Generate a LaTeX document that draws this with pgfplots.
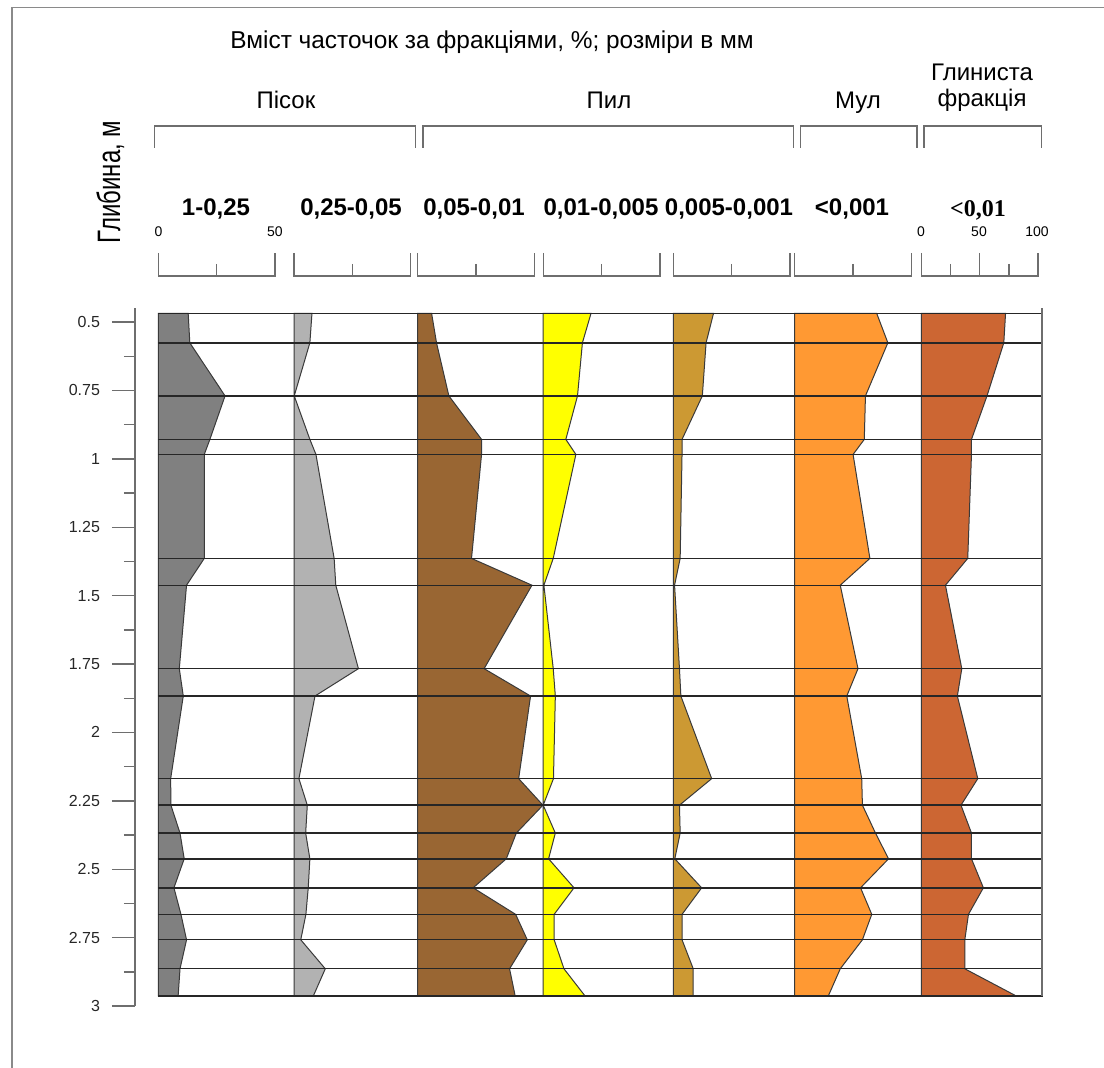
\documentclass[border=0pt]{standalone}
\usepackage{pgfplots}
\pgfplotsset{compat=1.18}
\usepackage{pgfplotstable}
\usepackage{graphicx}
\usepackage{fontspec}
\setmainfont{Liberation Sans}
\newfontfamily\timesfont{Liberation Serif}

\definecolor{colA}{HTML}{808080}
\definecolor{colB}{HTML}{B2B2B2}
\definecolor{colC}{HTML}{996633}
\definecolor{colD}{HTML}{FFFF00}
\definecolor{colE}{HTML}{CC9933}
\definecolor{colF}{HTML}{FF9933}
\definecolor{colG}{HTML}{CC6633}
\definecolor{edge}{HTML}{3A3A3A}
\definecolor{framegray}{HTML}{8A8A8A}

% depth (m) and content of each fraction (%)
\pgfplotstableread{
depth c1 c2 c3 c4 c5 c6 c7
0.468 0 0 0 0 0 0 0
0.468 12.8 7.7 6.0 20.5 17.2 35.2 72.2
0.576 13.5 6.8 8.1 16.8 14.0 40.0 70.7
0.770 28.6 0.1 13.4 14.7 12.4 30.4 56.3
0.929 22.1 6.8 27.4 9.7 3.7 29.9 43.0
0.984 19.7 9.4 27.4 14.0 3.7 25.1 43.0
1.364 19.7 17.2 23.1 4.3 2.9 32.3 39.8
1.462 12.1 17.9 49.0 0.3 0.5 19.6 20.7
1.767 9.0 27.6 28.5 4.3 2.6 27.2 34.7
1.867 10.7 9.0 48.4 5.2 3.2 22.4 30.9
2.169 5.3 2.1 43.3 4.4 16.4 28.8 48.4
2.266 5.4 5.7 53.7 0.0 2.6 29.1 34.0
2.368 9.3 5.0 42.3 5.2 2.9 34.7 43.0
2.462 11.1 6.8 38.0 2.3 0.6 40.3 43.0
2.568 6.7 6.1 23.8 13.2 12.1 28.3 53.2
2.665 9.7 5.1 42.0 4.7 3.7 33.1 40.4
2.758 12.1 2.9 47.0 4.7 3.7 29.1 37.3
2.864 9.3 13.4 39.4 8.9 8.5 19.6 37.3
2.963 8.5 8.3 41.8 17.9 8.5 14.5 81.2
2.963 0 0 0 0 0 0 0
}\profile

\pgfplotsset{
  col/.style={scale only axis, width=58.35pt, height=349pt,
    ymin=0.4488, ymax=3, y dir=reverse, xmin=0, xmax=50,
    hide axis, clip=false, anchor=north west},
  prof/.style={draw=edge, line width=0.5pt, fill=#1},
}

\newcommand\colscale[1]{%
  \draw[framegray!80!black, line width=0.7pt] (#1,253) -- (#1,276) -- ({#1+116.7},276) -- ({#1+116.7},253);
  \draw[framegray!80!black, line width=0.7pt] ({#1+58.35},264) -- ({#1+58.35},276);
}

\begin{document}
\begin{tikzpicture}
\begin{scope}[x=0.5pt,y=-0.5pt]
\useasboundingbox (0,0) rectangle (1104,1068);
\draw[framegray, line width=0.8pt] (12,1068) -- (12,7.5) -- (1104,7.5);

\node[anchor=base, font=\fontsize{12.2}{14}\selectfont] at (492,49) {Вміст часточок за фракціями, \%; розміри в мм};
\begin{scope}[every node/.style={anchor=base, font=\fontsize{12}{14}\selectfont}]
\node at (286,109) {Пісок};
\node at (609,109) {Пил};
\node at (858,109) {Мул};
\node at (982,81) {Глиниста};
\node at (982,107) {фракція};
\end{scope}

\draw[framegray!80!black, line width=0.7pt] (154.5,148) -- (154.5,126) -- (415.4,126) -- (415.4,148);
\draw[framegray!80!black, line width=0.7pt] (423,148) -- (423,126) -- (793.5,126) -- (793.5,148);
\draw[framegray!80!black, line width=0.7pt] (800.5,148) -- (800.5,126) -- (917,126) -- (917,148);
\draw[framegray!80!black, line width=0.7pt] (924,148) -- (924,126) -- (1041.5,126) -- (1041.5,148);

\node[rotate=90, anchor=base, font=\fontsize{12}{14}\selectfont] at (120,182) {\scalebox{1}[1.35]{Глибина, м}};

\begin{scope}[every node/.style={anchor=base, font=\bfseries\fontsize{12}{14}\selectfont}]
\node at (216,216) {1-0,25};
\node at (351,216) {0,25-0,05};
\node at (474,216) {0,05-0,01};
\node at (601,216) {0,01-0,005};
\node at (729,216) {0,005-0,001};
\node at (852,216) {<0,001};
\end{scope}
\node[anchor=base, font=\timesfont\bfseries\fontsize{12}{14}\selectfont] at (978,217) {<0,01};

\begin{scope}[every node/.style={anchor=base, font=\fontsize{7}{8}\selectfont}]
\node at (158.5,237) {0};
\node at (275,237) {50};
\node at (921,237) {0};
\node at (979,237) {50};
\node at (1037,237) {100};
\end{scope}

\colscale{158.3}
\colscale{294}
\colscale{417.6}
\colscale{543.2}
\colscale{673.4}
\colscale{794.5}
\draw[framegray!80!black, line width=0.7pt] (921.3,253) -- (921.3,276) -- (1038,276) -- (1038,253);
\draw[framegray!80!black, line width=0.7pt] (979.65,253) -- (979.65,276);
\draw[framegray!80!black, line width=0.7pt] (950.5,264) -- (950.5,276);
\draw[framegray!80!black, line width=0.7pt] (1008.8,264) -- (1008.8,276);
\end{scope}

\begin{axis}[col, at={(79.15pt,-154pt)}]
\addplot[prof=colA] table[x=c1, y=depth] {\profile} -- cycle;
\end{axis}
\begin{axis}[col, at={(147pt,-154pt)}]
\addplot[prof=colB] table[x=c2, y=depth] {\profile} -- cycle;
\end{axis}
\begin{axis}[col, at={(208.8pt,-154pt)}]
\addplot[prof=colC] table[x=c3, y=depth] {\profile} -- cycle;
\end{axis}
\begin{axis}[col, at={(271.6pt,-154pt)}]
\addplot[prof=colD] table[x=c4, y=depth] {\profile} -- cycle;
\end{axis}
\begin{axis}[col, at={(336.7pt,-154pt)}]
\addplot[prof=colE] table[x=c5, y=depth] {\profile} -- cycle;
\end{axis}
\begin{axis}[col, at={(397.25pt,-154pt)}]
\addplot[prof=colF] table[x=c6, y=depth] {\profile} -- cycle;
\end{axis}
\begin{axis}[col, at={(460.65pt,-154pt)}, xmax=100]
\addplot[prof=colG] table[x=c7, y=depth] {\profile} -- cycle;
\end{axis}

% depth axis and sample boundaries
\begin{axis}[scale only axis, width=454pt, height=349pt,
  at={(67.5pt,-154pt)}, anchor=north west,
  xmin=135, xmax=1043, ymin=0.4488, ymax=3, y dir=reverse,
  axis x line=none, axis y line*=left, clip=false,
  ytick={0.5,0.75,1,1.25,1.5,1.75,2,2.25,2.5,2.75,3},
  minor ytick={0.625,0.875,1.125,1.375,1.625,1.875,2.125,2.375,2.625,2.875},
  tick align=outside, major tick length=11.5pt, minor tick length=5.5pt,
  y axis line style={framegray!80!black, line width=0.7pt},
  every tick/.style={framegray!80!black, line width=0.7pt},
  every minor tick/.style={framegray!80!black, line width=0.7pt},
  /pgf/number format/assume math mode=true,
  yticklabel style={font=\fontsize{8}{9}\selectfont, text=black!85, xshift=-2.5pt},
]
\pgfplotsinvokeforeach{0.468,0.576,0.770,0.929,0.984,1.364,1.462,1.767,1.867,2.169,2.266,2.368,2.462,2.568,2.665,2.758,2.864,2.963}{
  \addplot[black!85, line width=0.7pt] coordinates {(158,#1) (1043,#1)};
}
\addplot[framegray!80!black, line width=0.7pt] coordinates {(1042,0.4488) (1042,2.963)};
\end{axis}
\end{tikzpicture}
\end{document}
